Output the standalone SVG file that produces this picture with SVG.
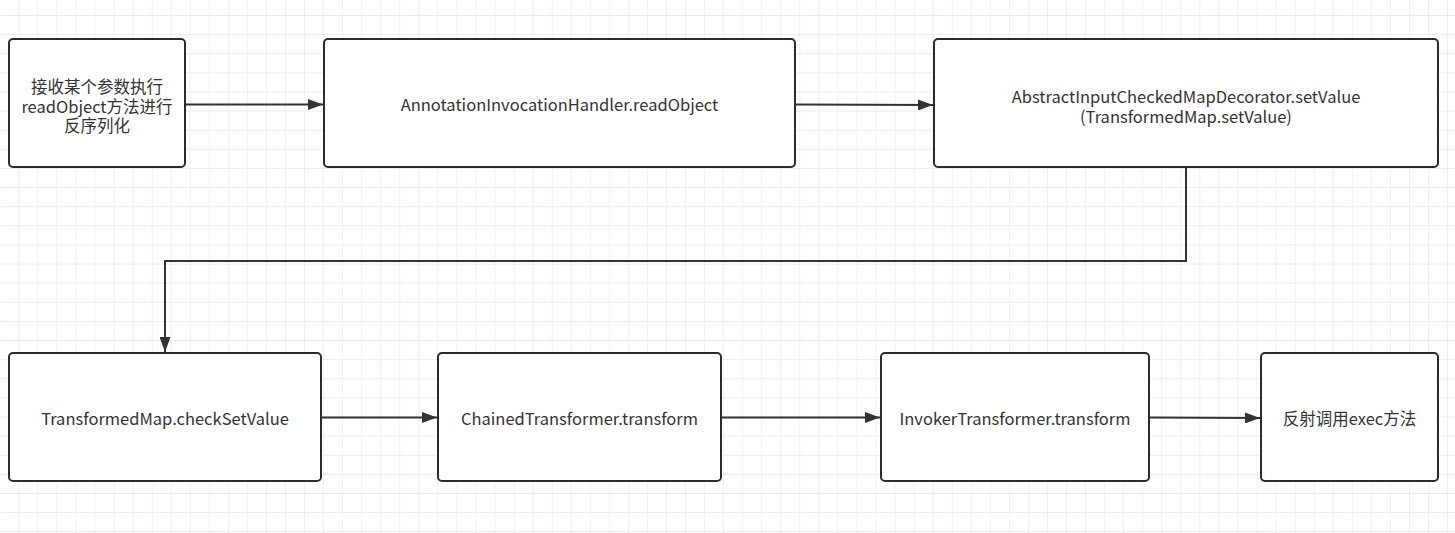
<svg xmlns="http://www.w3.org/2000/svg" width="1455" height="533" viewBox="0 0 1455 533">
<style>
.node rect{fill:#fff;stroke:#2b2b2b;stroke-width:2}
.node text{font-family:"Noto Sans CJK SC","Microsoft YaHei",sans-serif;font-size:16.5px;fill:#333;text-anchor:middle;dominant-baseline:central}
.edge{fill:none;stroke:#333;stroke-width:2}
</style>
<defs>
<pattern id="grid" patternUnits="userSpaceOnUse" x="-0.75" y="15" width="19.05" height="19.12">
<path d="M0 0V19.12M0 0H19.05" fill="none" stroke="#e6e6e6" stroke-width="1.2"/>
</pattern>
<marker id="arr" viewBox="0 0 15 11" refX="15" refY="5.5" markerWidth="15" markerHeight="11" markerUnits="userSpaceOnUse" orient="auto">
<path d="M0 0L15 5.5L0 11Z" fill="#333"/>
</marker>
</defs>
<rect width="1455" height="533" fill="#fff"/>
<rect width="1455" height="533" fill="url(#grid)"/>
<g id="connectors">
<path class="edge" d="M186 104.5H323" marker-end="url(#arr)"/>
<path class="edge" d="M796 104.5L933 105" marker-end="url(#arr)"/>
<path class="edge" d="M1186 168V261H165V352" marker-end="url(#arr)"/>
<path class="edge" d="M322 417.5H437" marker-end="url(#arr)"/>
<path class="edge" d="M722 417.5H880" marker-end="url(#arr)"/>
<path class="edge" d="M1150 417.5L1260 418" marker-end="url(#arr)"/>
</g>
<g id="n1" class="node"><rect x="9" y="39" width="176" height="128" rx="4"/>
<text x="97" y="86"><tspan x="97" y="86">接收某个参数执行</tspan><tspan x="97" y="105.5">readObject方法进行</tspan><tspan x="97" y="125">反序列化</tspan></text></g>
<g id="n2" class="node"><rect x="324" y="39" width="471" height="128" rx="4"/>
<text x="559.5" y="104">AnnotationInvocationHandler.readObject</text></g>
<g id="n3" class="node"><rect x="934" y="39" width="504" height="128" rx="4"/>
<text x="1186" y="95.5"><tspan x="1186" y="95.5">AbstractInputCheckedMapDecorator.setValue</tspan><tspan x="1186" y="116">(TransformedMap.setValue)</tspan></text></g>
<g id="n4" class="node"><rect x="9" y="353" width="312" height="128" rx="4"/>
<text x="165" y="418">TransformedMap.checkSetValue</text></g>
<g id="n5" class="node"><rect x="438" y="353" width="283" height="128" rx="4"/>
<text x="579.5" y="418">ChainedTransformer.transform</text></g>
<g id="n6" class="node"><rect x="881" y="353" width="268" height="128" rx="4"/>
<text x="1015" y="418">InvokerTransformer.transform</text></g>
<g id="n7" class="node"><rect x="1261" y="353" width="177" height="128" rx="4"/>
<text x="1349.5" y="418">反射调用exec方法</text></g>
</svg>
